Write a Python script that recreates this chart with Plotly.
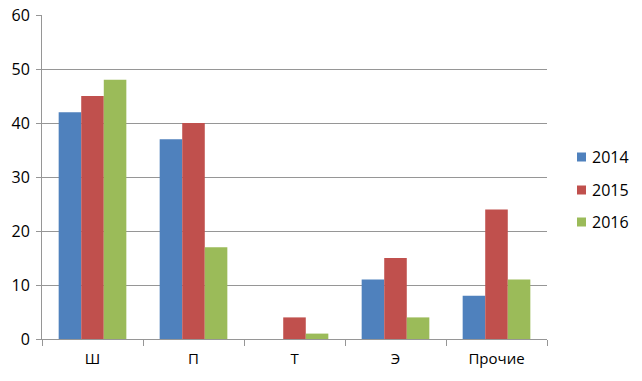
import plotly.graph_objects as go

categories = ["Ш", "П", "Т", "Э", "Прочие"]
v2014 = [42, 37, 0, 11, 8]
v2015 = [45, 40, 4, 15, 24]
v2016 = [48, 17, 1, 4, 11]
years = ["2014", "2015", "2016"]
colors = ["#4F81BD", "#C0504D", "#9BBB59"]

fig = go.Figure()
for i, (name, vals) in enumerate(zip(years, [v2014, v2015, v2016])):
    fig.add_trace(go.Bar(x=categories, y=vals, name=name, marker_color=colors[i],
                         marker_line_width=0, showlegend=False))

W, H = 642, 381
L, R, T, B = 42, 547, 15, 339
def px(x):
    return (x - L) / (R - L)
def py(y):
    return (B - y) / (B - T)

legend_y = [157, 190, 222]
for name, col, yc in zip(years, colors, legend_y):
    fig.add_shape(type="rect", xref="paper", yref="paper",
                  x0=px(577), x1=px(586), y0=py(yc + 4.5), y1=py(yc - 4.5),
                  fillcolor=col, line_width=0)
    fig.add_annotation(xref="paper", yref="paper", x=px(590), y=py(yc),
                       text=name, showarrow=False, xanchor="left", yanchor="middle",
                       font=dict(size=16, color="#000000"))

gc = "#969696"
fig.update_layout(
    width=W, height=H,
    margin=dict(l=L, r=W - R, t=T, b=H - B, autoexpand=False),
    paper_bgcolor="white", plot_bgcolor="white",
    barmode="group", bargap=0.33, bargroupgap=0,
    font=dict(family="Open Sans, Liberation Sans, sans-serif", size=15, color="#000000"),
    showlegend=False,
)
fig.update_xaxes(type="category", showline=True, linecolor=gc, linewidth=1,
                 ticks="outside", tickson="boundaries", ticklen=6, tickcolor=gc,
                 showgrid=False, tickfont=dict(size=15), automargin=False,
                 ticklabelstandoff=6)
fig.update_yaxes(range=[0, 60], dtick=10, showline=True, linecolor=gc, linewidth=1,
                 ticks="outside", ticklen=5, tickcolor=gc, gridcolor=gc, gridwidth=1,
                 zeroline=False, tickfont=dict(size=16), ticklabelstandoff=3, automargin=False)

fig.write_html("out.html", config={"displayModeBar": False},
               post_script="document.body.style.margin='0';document.body.style.padding='0';")
